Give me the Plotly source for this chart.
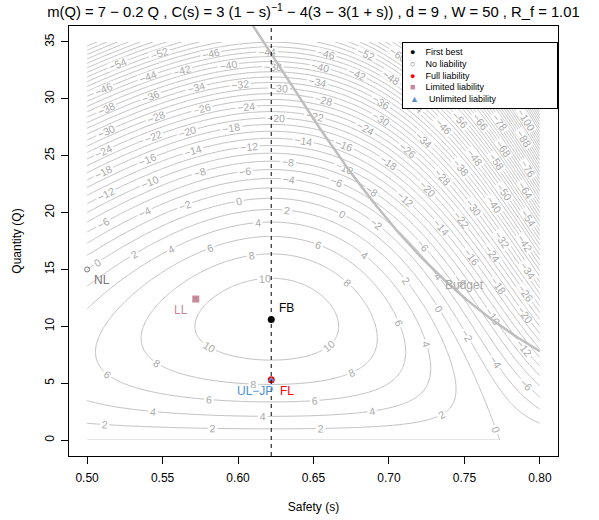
import numpy as np
import plotly.graph_objects as go

# ---- model parameters (from the title) ----
m_intercept = 7.0
m_slope = 0.2
d_loss = 9.0
wealth = 50.0

# ---- axis ticks ----
x_ticks = [0.50, 0.55, 0.60, 0.65, 0.70, 0.75, 0.80]
y_ticks = [0, 5, 10, 15, 20, 25, 30, 35]

# ---- grid extent for the welfare contours ----
s_min, s_max = 0.5, 0.8
q_min, q_max = 0.0, 35.0
contour_start, contour_end, contour_step = -200, 10, 2

# ---- equilibrium points ----
fb_s, fb_q = 0.622, 10.6      # First best
nl_s, nl_q = 0.500, 15.0      # No liability
fl_s, fl_q = 0.622, 5.3       # Full liability
ll_s, ll_q = 0.572, 12.4      # Limited liability
ul_s, ul_q = 0.622, 5.3       # Unlimited liability

budget_label_s, budget_label_q = 0.75, 13.6


def cost(s):
    return 3.0 / (1.0 - s) - 12.0 * s + 1.0


s_grid = np.linspace(s_min, s_max, 301)
q_grid = np.linspace(q_min, q_max, 351)
S, Q = np.meshgrid(s_grid, q_grid)
Z = m_intercept * Q - 0.5 * m_slope * Q ** 2 - Q * (cost(S) + d_loss * (1 - S))

s_budget = np.linspace(0.58, s_max, 300)
q_budget = wealth / cost(s_budget)

FONT = "Liberation Sans, Arial, sans-serif"
GRAY = "#BEBEBE"

fig = go.Figure()

fig.add_trace(go.Contour(
    x=s_grid, y=q_grid, z=Z,
    autocontour=False,
    contours=dict(start=contour_start, end=contour_end, size=contour_step,
                  coloring="none", showlabels=True,
                  labelfont=dict(family=FONT, size=10.5, color="#A9A9A9")),
    line=dict(color=GRAY, width=1),
    showscale=False, hoverinfo="skip", showlegend=False,
))

fig.add_trace(go.Scatter(x=s_budget, y=q_budget, mode="lines",
                         line=dict(color=GRAY, width=2.5),
                         hoverinfo="skip", showlegend=False))

fig.add_trace(go.Scatter(x=[fb_s], y=[fb_q], mode="markers", name="First best",
                         marker=dict(color="black", size=7), showlegend=False))
fig.add_trace(go.Scatter(x=[nl_s], y=[nl_q], mode="markers", name="No liability",
                         marker=dict(color="#777777", size=5, symbol="circle-open",
                                     line=dict(color="#777777", width=1)),
                         showlegend=False, cliponaxis=False))
fig.add_trace(go.Scatter(x=[fl_s], y=[fl_q], mode="markers", name="Full liability",
                         marker=dict(color="red", size=7), showlegend=False))
fig.add_trace(go.Scatter(x=[ll_s], y=[ll_q], mode="markers", name="Limited liability",
                         marker=dict(color="#C4899A", size=7, symbol="square"),
                         showlegend=False))
fig.add_trace(go.Scatter(x=[ul_s], y=[ul_q], mode="markers", name="Unlimited liability",
                         marker=dict(color="#5B8FC9", size=6, symbol="triangle-up"),
                         showlegend=False))

# dashed vertical line at first-best safety
fig.add_shape(type="line", x0=fb_s, x1=fb_s, y0=0, y1=1, xref="x", yref="paper",
              line=dict(color="black", width=1, dash="4px,4px"))

ann = []
def label(x, y, text, color, dx, dy, size=12):
    ann.append(dict(x=x, y=y, xref="x", yref="y", text=text, showarrow=False,
                    font=dict(family=FONT, size=size, color=color),
                    xshift=dx, yshift=dy))

label(fb_s, fb_q, "FB", "black", 15, 11)
label(nl_s, nl_q, "NL", "#777777", 15, -11)
label(fl_s, fl_q, "FL", "red", 16, -11)
label(ul_s, ul_q, "UL\u2212JP", "#4F8FD0", -16, -11)
label(ll_s, ll_q, "LL", "#C4899A", -15, -11)
label(budget_label_s, budget_label_q, "Budget", "#A8A8A8", 0, 0)

legend_items = [("\u25CF", "black", "First best"),
                ("\u25CB", "#777777", "No liability"),
                ("\u25CF", "red", "Full liability"),
                ("\u25A0", "#C4899A", "Limited liability"),
                ("\u25B2", "#5B8FC9", "Unlimited liability")]
legend_text = "<br>".join(
    f"&nbsp;&nbsp;<span style='color:{c}'>{sym}</span>&nbsp;&nbsp;&nbsp;&nbsp;{t}"
    for sym, c, t in legend_items)
ann.append(dict(x=1, y=0.962, xref="paper", yref="paper", xanchor="right",
                yanchor="top", text=legend_text, showarrow=False, align="left",
                width=150, height=61, valign="middle",
                bgcolor="white", bordercolor="black", borderwidth=1, borderpad=2,
                font=dict(family=FONT, size=9, color="black")))

fig.update_layout(
    width=599, height=520,
    margin=dict(l=69, r=41, t=26, b=64),
    paper_bgcolor="white", plot_bgcolor="white",
    font=dict(family=FONT, size=12, color="black"),
    title=dict(text="m(Q) = 7 \u2212 0.2 Q , C(s) = 3 (1 \u2212 s)<sup>\u22121</sup> \u2212 4(3 \u2212 3(1 + s)) , d = 9 , W = 50 , R_f = 1.01",
               x=0.5, xref="paper", xanchor="center",
               y=1 - 12 / 520, yref="container", yanchor="middle",
               font=dict(family=FONT, size=14.8, color="black")),
    annotations=ann,
    showlegend=False,
)

fig.update_xaxes(range=[0.488, 0.812], tickvals=x_ticks, tickformat=".2f",
                 automargin=False,
                 showgrid=False, zeroline=False, showline=True, mirror=True,
                 linecolor="black", linewidth=1, ticks="outside", ticklen=7,
                 tickcolor="black", ticklabelstandoff=4,
                 title=dict(text="Safety (s)", standoff=18,
                            font=dict(family=FONT, size=12)))
fig.update_yaxes(range=[-1.4, 36.4], tickvals=y_ticks, tickangle=-90,
                 automargin=False,
                 showgrid=False, zeroline=False, showline=True, mirror=True,
                 linecolor="black", linewidth=1, ticks="outside", ticklen=7,
                 tickcolor="black", ticklabelstandoff=2,
                 title=dict(text="Quantity (Q)", standoff=19,
                            font=dict(family=FONT, size=12)))

fig.write_html("out.html", config={"displayModeBar": False},
               post_script="document.body.style.margin='0';document.body.style.padding='0';")
